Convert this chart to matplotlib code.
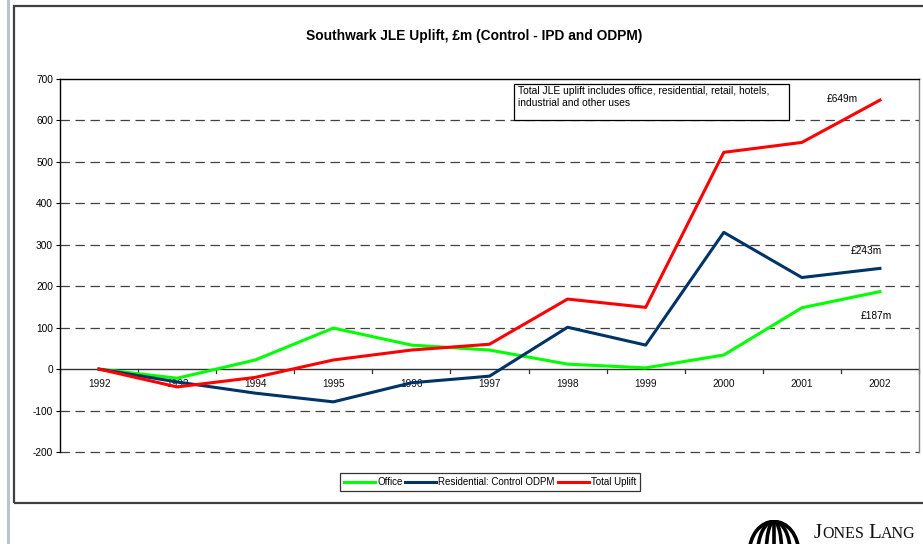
import matplotlib
matplotlib.use("Agg")
import matplotlib.pyplot as plt
from matplotlib.patches import Rectangle, Arc
import numpy as np

years = ["1992", "1993", "1994", "1995", "1996", "1997", "1998", "1999", "2000", "2001", "2002"]
office = [0, -22, 22, 99, 58, 46, 12, 3, 34, 148, 187]
residential = [0, -31, -58, -79, -33, -17, 101, 58, 330, 221, 243]
total_uplift = [0, -43, -20, 22, 46, 60, 169, 149, 523, 547, 649]
end_labels = ["£187m", "£243m", "£649m"]

W, H = 923, 544
fig = plt.figure(figsize=(W / 100, H / 100), dpi=100)
fig.patch.set_facecolor("white")

def fx(px):
    return px / W

def fy(py):
    return 1 - py / H

# page margin strip and outer chart frame
fig.add_artist(Rectangle((fx(7), 0), fx(3), 1, transform=fig.transFigure,
                         facecolor="#b8c4d6", edgecolor="none"))
fig.add_artist(Rectangle((fx(14), fy(503)), fx(925 - 14), fy(6) - fy(503),
                         transform=fig.transFigure, facecolor="none",
                         edgecolor="#404040", linewidth=1.6))

ax = fig.add_axes([fx(60), fy(452), fx(919 - 60), fy(79) - fy(452)])
x = np.arange(len(years))

ax.set_xlim(-0.5, len(years) - 0.5)
ax.set_ylim(-200, 700)
ax.set_yticks(range(-200, 701, 100))
ax.set_yticklabels([str(v) for v in range(-200, 701, 100)], fontsize=7.3,
                   family="Liberation Sans")
ax.tick_params(axis="y", length=3, width=0.8, pad=2, direction="out")
ax.set_xticks([])

for v in range(-200, 701, 100):
    if v in (0, 700):
        continue
    ax.axhline(v, color="#404040", lw=0.9, dashes=(7.5, 4.5), zorder=1, clip_on=False)
ax.axhline(0, color="#333333", lw=1.0, zorder=2)

# category ticks on the zero line and year labels beneath it
for b in np.arange(-0.5, len(years), 1.0):
    ax.plot([b, b], [0, -9], color="#333333", lw=0.9, clip_on=False, zorder=2)
for i, yr in enumerate(years):
    ax.text(i, -36, yr, ha="center", va="center", fontsize=7.3, color="#111111",
            family="Liberation Sans", zorder=2)

ax.spines["bottom"].set_visible(False)
ax.spines["left"].set_color("black")
ax.spines["left"].set_linewidth(1.0)
ax.spines["top"].set_color("black")
ax.spines["top"].set_linewidth(1.0)
ax.spines["right"].set_color("#808080")
ax.spines["right"].set_linewidth(1.0)

l1, = ax.plot(x, office, color="#00ff00", lw=2.2, label="Office", zorder=3)
l2, = ax.plot(x, residential, color="#003366", lw=2.2,
              label="Residential: Control ODPM", zorder=3)
l3, = ax.plot(x, total_uplift, color="#ff0000", lw=2.2, label="Total Uplift", zorder=4)

last = len(years) - 1
ax.text(last - 0.05, office[-1] - 60, end_labels[0], ha="center", va="center",
        fontsize=7.3, family="Liberation Sans")
ax.text(last - 0.18, residential[-1] + 42, end_labels[1], ha="center", va="center",
        fontsize=7.3, family="Liberation Sans")
ax.text(last - 0.48, total_uplift[-1] + 3, end_labels[2], ha="center", va="center",
        fontsize=7.3, family="Liberation Sans")

# note box
ax.add_patch(Rectangle((5.314, 600.7), 8.835 - 5.314, 687.6 - 600.7,
                       facecolor="white", edgecolor="black", linewidth=0.9, zorder=5))
ax.text(5.36, 683, "Total JLE uplift includes office, residential, retail, hotels,\n"
        "industrial and other uses", ha="left", va="top", fontsize=7.4,
        family="Liberation Sans", linespacing=1.25, zorder=6)

fig.text(fx(474), fy(36), "Southwark JLE Uplift, £m (Control - IPD and ODPM)",
         ha="center", va="center", fontsize=9.9, fontweight="bold",
         family="Liberation Sans")

leg = fig.legend(handles=[l1, l2, l3], loc="center", bbox_to_anchor=(fx(490), fy(482)),
                 ncol=3, frameon=True, fancybox=False, handlelength=3.2,
                 handletextpad=0.2, columnspacing=0.3, borderpad=0.4,
                 prop={"family": "Liberation Sans", "size": 7})
leg.get_frame().set_edgecolor("black")
leg.get_frame().set_linewidth(0.9)

# company mark at the foot of the page
fig.canvas.draw()
renderer = fig.canvas.get_renderer()
xpos = 814
for part, size in [("J", 15), ("ONES", 11.5), (" ", 11.5), ("L", 15), ("ANG", 11.5)]:
    t = fig.text(fx(xpos), fy(538), part, ha="left", va="baseline", fontsize=size,
                 family="Liberation Serif", color="#111111")
    xpos += t.get_window_extent(renderer).width
gax = fig.add_axes([fx(748), 0, fx(52), fy(520)])
gax.set_xlim(-1, 1)
gax.set_ylim(-1.0, 0.6)
gax.axis("off")
for w in [1.9, 1.25, 0.6]:
    gax.add_patch(Arc((0, -1.6), w, 4.2, theta1=0, theta2=180, color="black", lw=2.6))
gax.plot([0, 0], [-1.0, 0.5], color="black", lw=2.6)

fig.savefig("out.png", dpi=100, facecolor="white")
